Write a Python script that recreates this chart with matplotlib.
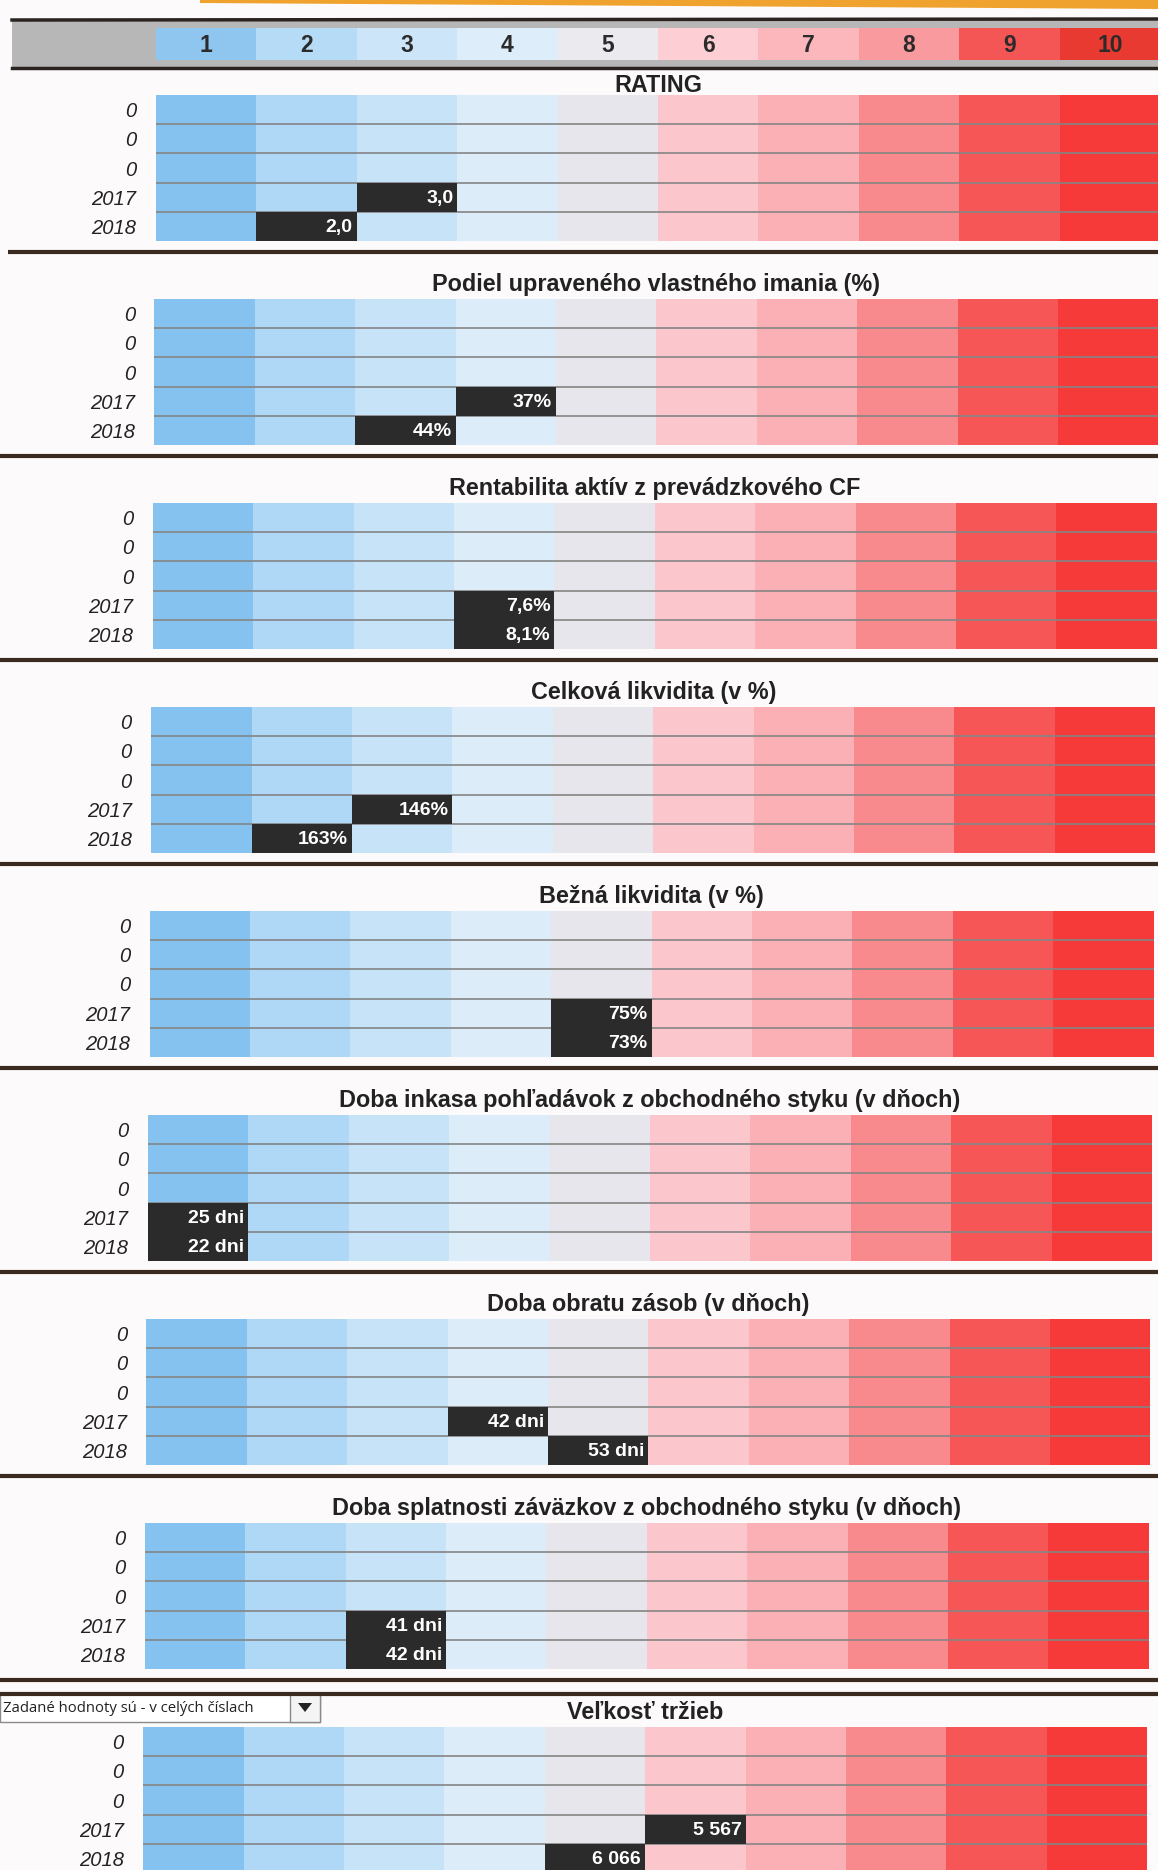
import numpy as np
import matplotlib.pyplot as plt
from matplotlib.patches import Rectangle, Polygon
from matplotlib import font_manager

W, H = 1158, 1870

# data
grades = [1, 2, 3, 4, 5, 6, 7, 8, 9, 10]
row_labels = ['0', '0', '0', '2017', '2018']
titles = [
    'RATING',
    'Podiel upraveného vlastného imania (%)',
    'Rentabilita aktív z prevádzkového CF',
    'Celková likvidita (v %)',
    'Bežná likvidita (v %)',
    'Doba inkasa pohľadávok z obchodného styku (v dňoch)',
    'Doba obratu zásob (v dňoch)',
    'Doba splatnosti záväzkov z obchodného styku (v dňoch)',
    'Veľkosť tržieb',
]
rating_2017 = [3, 4, 4, 3, 5, 1, 4, 3, 6]
rating_2018 = [2, 3, 4, 2, 5, 1, 5, 3, 5]
labels_2017 = ['3,0', '37%', '7,6%', '146%', '75%', '25 dni', '42 dni', '41 dni', '5 567']
labels_2018 = ['2,0', '44%', '8,1%', '163%', '73%', '22 dni', '53 dni', '42 dni', '6 066']

head_colors = ['#8fc6ef', '#b5dbf7', '#cce5f9', '#ddedfa', '#ebebef',
               '#fdcfd5', '#fcb7bd', '#f99a9e', '#f45555', '#e83a30']
cell_colors = ['#86c2ef', '#aed8f6', '#c7e3f8', '#dcecf9', '#e6e6ec',
               '#fcc6cd', '#fbb0b6', '#f8898d', '#f65656', '#f63a3a']

names = {f.name for f in font_manager.fontManager.ttflist}
narrow = 'Liberation Sans Narrow' if 'Liberation Sans Narrow' in names else 'Liberation Sans'
plt.rcParams['font.family'] = ['Liberation Sans', 'DejaVu Sans']

fig = plt.figure(figsize=(W / 100, H / 100), dpi=100)
fig.patch.set_facecolor('#fcfafa')

bg = fig.add_axes([0, 0, 1, 1])
bg.set_xlim(0, W)
bg.set_ylim(H, 0)
bg.axis('off')


def box(left, top, width, height):
    return [left / W, 1 - (top + height) / H, width / W, height / H]


# header band
bg.add_patch(Polygon([(200, 0), (W, 0), (W, 9), (200, 3)], closed=True,
                     color='#f0a22e', lw=0))
bg.add_patch(Rectangle((12, 20), W - 12, 48, color='#b7b7b7', lw=0))
bg.plot([12, W], [20, 19], color='#2a2320', lw=2.5)
bg.plot([12, W], [68, 68], color='#2a2320', lw=2.5)

cell_w = 100.4
hx = fig.add_axes(box(156, 28, cell_w * 10, 32))
hx.bar(np.arange(10), 1, width=1, align='edge', color=head_colors, lw=0)
for g in grades:
    hx.text(g - 0.5, 0.45, str(g), ha='center', va='center', fontsize=16.5,
            fontweight='bold', color='#2b2b2b', family=[narrow, 'DejaVu Sans'])
hx.set_xlim(0, 10)
hx.set_ylim(0, 1)
hx.axis('off')

# panels
grid_h = 146
rows = np.arange(len(row_labels))
for i, title in enumerate(titles):
    top = 95 + 204 * i
    left = 156 - 1.6 * i
    ax = fig.add_axes(box(left, top, cell_w * 10, grid_h))
    ax.bar(np.arange(10), len(rows), bottom=-0.5, width=1, align='edge',
           color=cell_colors, lw=0, zorder=1)
    ax.hlines(rows[:-1] + 0.5, 0, 10, color='#858585', lw=1.2, zorder=2)
    for r, v, lab in [(3, rating_2017[i], labels_2017[i]),
                      (4, rating_2018[i], labels_2018[i])]:
        ax.barh(r, 1, left=v - 1, height=1, color='#2b2b2b', lw=0, zorder=3)
        ax.text(v - 0.04, r + 0.04, lab, ha='right', va='center', color='white',
                fontsize=14, fontweight='bold', zorder=4,
                family=[narrow, 'DejaVu Sans'])
    ax.set_xlim(0, 10)
    ax.set_ylim(len(rows) - 0.5, -0.5)
    ax.set_xticks([])
    ax.set_yticks(rows)
    ax.set_yticklabels(row_labels, fontsize=14.5, fontstyle='italic', color='#222222')
    ax.tick_params(axis='y', length=0, pad=14)
    for s in ax.spines.values():
        s.set_visible(False)
    off = 9 if i == 0 else 14.5
    ax.text(0.5, 1 + off / grid_h, title, transform=ax.transAxes, ha='center',
            va='center', fontsize=16.8, fontweight='bold', color='#222222')
    # separator under the panel
    sy = top + grid_h + 11
    if i < len(titles) - 1:
        bg.plot([8 if i == 0 else 0, W], [sy, sy], color='#3a2a20', lw=3,
                solid_capstyle='butt')

# separator above the last panel and the drop-down box
sy = 95 + 204 * 8 - 33
bg.plot([0, W], [sy, sy], color='#3a2a20', lw=3, solid_capstyle='butt')
bg.add_patch(Rectangle((0, 1694), 320, 28, facecolor='white', edgecolor='#8a8a8a', lw=1))
bg.add_patch(Rectangle((290, 1694), 30, 28, facecolor='#f4f4f4', edgecolor='#8a8a8a', lw=1))
bg.add_patch(Polygon([(298, 1703), (312, 1703), (305, 1712)], closed=True,
                     color='#222222', lw=0))
bg.text(3, 1708, 'Zadané hodnoty sú - v celých číslach', ha='left', va='center',
        fontsize=10.7, color='#222222', family=['Open Sans', 'DejaVu Sans'])

fig.savefig('out.png', dpi=100, facecolor=fig.get_facecolor())
